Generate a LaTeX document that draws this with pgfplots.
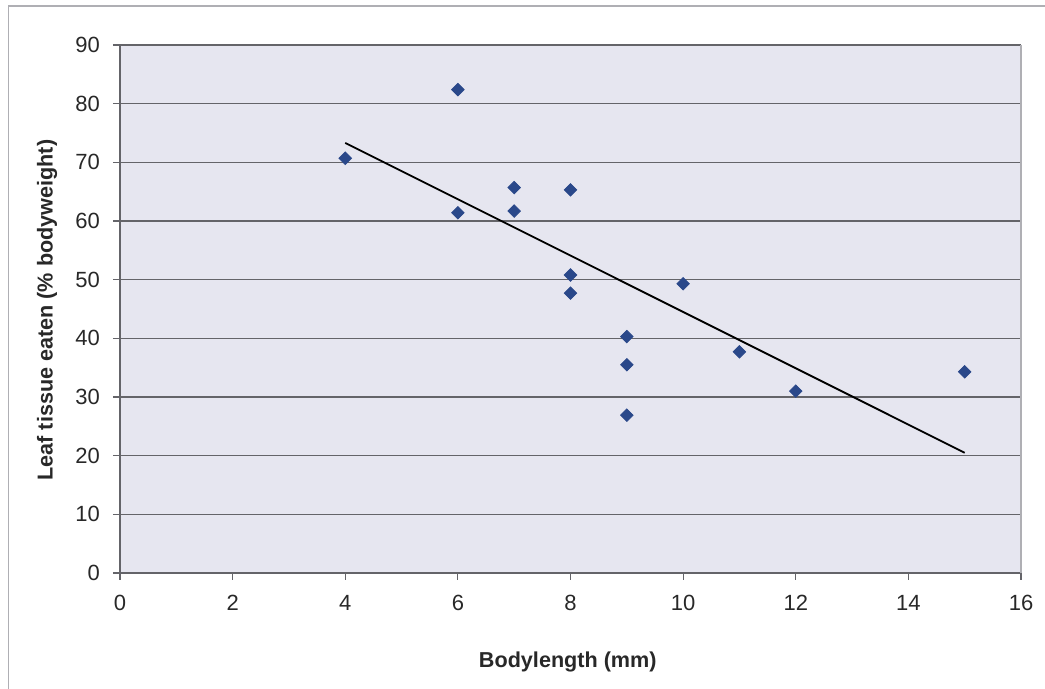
\documentclass[border=0pt]{standalone}
\usepackage{pgfplots}
\pgfplotsset{compat=1.18}
\usepackage{fontspec}
\setmainfont{Liberation Sans}

\definecolor{plotbg}{RGB}{230,230,240}
\definecolor{gridc}{RGB}{100,100,105}
\definecolor{edgec}{RGB}{175,175,180}
\definecolor{markc}{RGB}{42,72,138}
\definecolor{textc}{RGB}{40,40,40}

\begin{document}
\begin{tikzpicture}[x=1pt,y=1pt]
\path[use as bounding box] (0,0) rectangle (522.5,344.5);
% outer chart frame
\draw[edgec, line width=0.6pt] (4.25,0) -- (4.25,341.5) -- (522.5,341.5);
\begin{axis}[
  at={(60pt,58pt)}, anchor=south west,
  scale only axis, width=450.5pt, height=264pt,
  xmin=0, xmax=16, ymin=0, ymax=90,
  xtick={0,2,...,16}, ytick={0,10,...,90},
  axis background/.style={fill=plotbg},
  ymajorgrids, grid style={gridc, line width=0.6pt},
  axis lines*=left, axis line style={gridc, line width=0.6pt, -},
  tick align=outside, major tick length=3.5pt,
  tick style={gridc, line width=0.6pt},
  /pgf/number format/assume math mode=true,
  tick label style={font=\fontsize{11}{13}\selectfont, text=textc},
  yticklabel style={xshift=-3pt},
  xticklabel style={yshift=-4pt},
  xlabel={Bodylength (mm)},
  ylabel={Leaf tissue eaten (\% bodyweight)},
  label style={font=\bfseries\fontsize{10.8}{13}\selectfont, text=textc},
  xlabel style={at={(axis description cs:0.497,-0.1686)}, anchor=center},
  ylabel style={at={(axis description cs:-0.081,0.498)}, anchor=center},
  clip=false,
]
\draw[edgec, line width=0.6pt] (axis cs:16,0) -- (axis cs:16,90);
\addplot[only marks, mark=square*, mark size=2.2pt, color=markc,
         mark options={rotate=45}] table {
x y
4 70.7
6 82.4
6 61.4
7 65.7
7 61.7
8 65.3
8 50.8
8 47.7
10 49.3
9 40.3
9 35.5
9 26.9
11 37.7
12 31.0
15 34.3
};
% fitted linear trend
\addplot[black, line width=0.9pt] table {
x y
4 73.3
15 20.5
};
\end{axis}
\end{tikzpicture}
\end{document}
